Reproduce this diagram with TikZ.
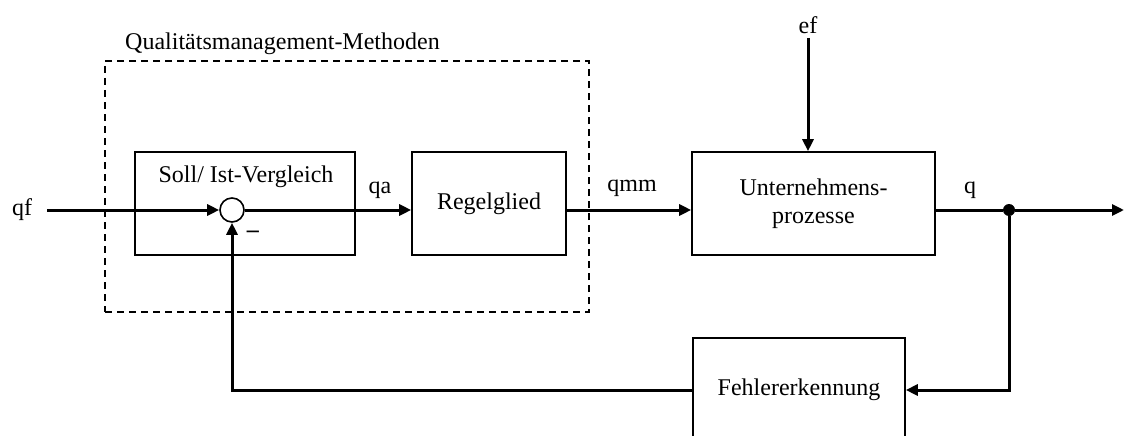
\documentclass[tikz,border=0pt]{standalone}
\usepackage{fontspec}
\setmainfont{Liberation Serif}
\usetikzlibrary{arrows.meta}
\begin{document}
\begin{tikzpicture}[x=1pt,y=-1pt,
  font=\fontsize{24}{28}\selectfont,
  block/.style={draw, line width=1.6pt, minimum height=103pt, inner sep=0pt, align=center},
  sig/.style={line width=3pt, -{Triangle[length=12pt,width=11pt]}},
  wire/.style={line width=3pt},
  lbl/.style={inner sep=0pt}]
\useasboundingbox (0,0) rectangle (1124,436);
\clip (0,0) rectangle (1124,436);

% group of quality management methods
\node[draw, line width=1.4pt, dash pattern=on 7pt off 5pt,
      minimum width=484pt, minimum height=251pt, inner sep=0pt] (qm) at (347,186.5) {};
\node[lbl, anchor=west] (qmt) at (125,44) {Qualitätsmanagement-Methoden};

% blocks
\node[block, minimum width=220pt] (soll) at (245,203.5) {};
\node[lbl] (sollt) at (246,177) {Soll/ Ist-Vergleich};
\node[circle, draw, fill=white, line width=1.6pt, minimum size=24pt, inner sep=0pt] (sum) at (232,210) {};
\node[lbl] (minus) at (253,234) {\textbf{–}};
\node[block, minimum width=154pt] (reg) at (489,203.5) {Regelglied};
\node[block, minimum width=243pt] (unt) at (813.5,203.5) {Unternehmens-\\prozesse};
\node[block, minimum width=212pt, minimum height=104pt] (fehl) at (799,390) {Fehlererkennung};
\node[circle, fill, minimum size=12pt, inner sep=0pt] (dot) at (1009,210) {};

% signal labels
\node[lbl] (qf) at (22,210) {qf};
\node[lbl] (qa) at (380,190) {qa};
\node[lbl] (qmm) at (632,188) {qmm};
\node[lbl] (q) at (970,190) {q};
\node[lbl] (ef) at (808,25) {ef};
\coordinate (efin) at (808,38);
\coordinate (qfin) at (47,210);
\coordinate (qout) at (1124,210);

% signal flow
\draw[sig] (qfin) -- (sum.west);
\draw[sig] (sum.east) -- (sum.east -| reg.west);
\draw[sig] (reg.east |- sum) -- (unt.west |- sum);
\draw[sig] (efin) -- (unt.north -| efin);
\draw[wire] (unt.east |- sum) -- (dot);
\draw[sig] (dot) -- (qout);
\draw[sig] (dot) |- (fehl.east);
\draw[sig] (fehl.west) -| (sum.south);
\end{tikzpicture}
\end{document}
